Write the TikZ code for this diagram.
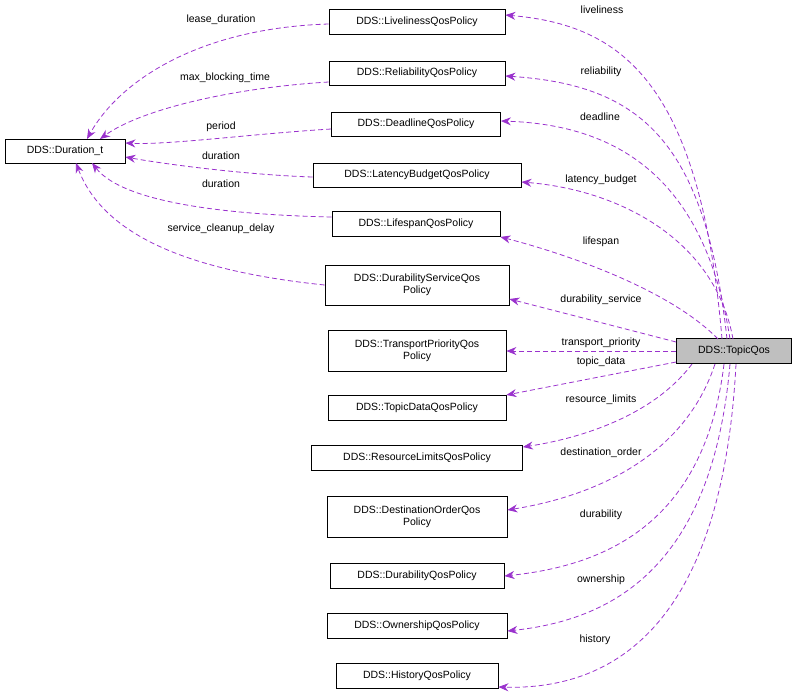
\documentclass[tikz,border=0pt]{standalone}
\usepackage{fontspec}
\setmainfont{Liberation Sans}
\usetikzlibrary{arrows.meta}
\definecolor{edge}{HTML}{9A32CD}
\begin{document}
\begin{tikzpicture}[x=1pt,y=-1pt,
  box/.style={draw=black,line width=0.8pt,fill=white,align=center,inner sep=0pt,font=\fontsize{10.5}{12.5}\selectfont},
  lbl/.style={font=\fontsize{10.5}{12.5}\selectfont,inner sep=0pt},
  e/.style={draw=edge,dashed,dash pattern=on 5pt off 3pt,line width=0.8pt,-{Stealth[length=10pt,width=8pt]}}]
\useasboundingbox (0,0) rectangle (797,697);
\node[box,minimum width=120,minimum height=24] (dur) at (65,151) {DDS::Duration\_t};
\node[box,minimum width=176,minimum height=25] (live) at (417,22) {DDS::LivelinessQosPolicy};
\node[box,minimum width=176,minimum height=24] (rel) at (417,73) {DDS::ReliabilityQosPolicy};
\node[box,minimum width=169,minimum height=24] (dead) at (416,124) {DDS::DeadlineQosPolicy};
\node[box,minimum width=208,minimum height=24] (lat) at (417,175) {DDS::LatencyBudgetQosPolicy};
\node[box,minimum width=168,minimum height=25] (life) at (416,224) {DDS::LifespanQosPolicy};
\node[box,minimum width=184,minimum height=40] (dsv) at (417,285) {DDS::DurabilityServiceQos\\Policy};
\node[box,minimum width=178,minimum height=41] (tp) at (417,351) {DDS::TransportPriorityQos\\Policy};
\node[box,minimum width=178,minimum height=25] (td) at (417,408) {DDS::TopicDataQosPolicy};
\node[box,minimum width=211,minimum height=25] (rl) at (417,458) {DDS::ResourceLimitsQosPolicy};
\node[box,minimum width=180,minimum height=41] (dor) at (417,517) {DDS::DestinationOrderQos\\Policy};
\node[box,minimum width=174,minimum height=25] (dq) at (417,576) {DDS::DurabilityQosPolicy};
\node[box,minimum width=180,minimum height=25] (own) at (417,626) {DDS::OwnershipQosPolicy};
\node[box,minimum width=162,minimum height=25] (hist) at (417,676) {DDS::HistoryQosPolicy};
\node[box,fill={rgb,255:red,191;green,191;blue,191},minimum width=115,minimum height=25] (tq) at (734,351) {DDS::TopicQos};

\coordinate (t1) at (722,339); \coordinate (t2) at (727,339); \coordinate (t3) at (730,339);
\coordinate (t4) at (733,339); \coordinate (t5) at (718,339);
\coordinate (b1) at (692,364); \coordinate (b2) at (715,364); \coordinate (b3) at (724,364);
\coordinate (b4) at (730,364); \coordinate (b5) at (736,364);
\coordinate (dA) at (87,139); \coordinate (dB) at (100,139);
\coordinate (dC) at (92,163); \coordinate (dD) at (76,163);

\path[e] (t1) .. controls (700,80) and (620,25) .. (live.east |- 0,15);
\path[e] (t2) .. controls (705,140) and (640,85) .. (rel.east |- 0,76);
\path[e] (t3) .. controls (705,180) and (620,125) .. (dead.east |- 0,121);
\path[e] (t4) .. controls (715,240) and (620,190) .. (lat.east |- 0,182);
\path[e] (t5) .. controls (670,290) and (570,255) .. (life.south east);
\path[e] (tq.west |- 0,342) -- (dsv.east |- 0,299);
\path[e] (tq.west) -- (tp.east);
\path[e] (tq.west |- 0,362) -- (td.east |- 0,395);
\path[e] (b1) .. controls (650,420) and (570,440) .. (rl.east |- 0,447);
\path[e] (b2) .. controls (680,470) and (570,500) .. (dor.east |- 0,510);
\path[e] (b3) .. controls (705,520) and (610,565) .. (dq.east);
\path[e] (b4) .. controls (712,570) and (610,620) .. (own.east |- 0,631);
\path[e] (b5) .. controls (722,630) and (610,690) .. (hist.east |- 0,687);

\path[e] (live.west |- 0,24) .. controls (200,28) and (120,80) .. (dA);
\path[e] (rel.west |- 0,82) .. controls (230,88) and (140,110) .. (dB);
\path[e] (dead.west |- 0,129) .. controls (250,134) and (170,145) .. (dur.east |- 0,143);
\path[e] (lat.west |- 0,177) .. controls (250,175) and (170,165) .. (dur.east |- 0,157);
\path[e] (life.west |- 0,217) .. controls (240,215) and (125,205) .. (dC);
\path[e] (dsv.west) .. controls (200,272) and (105,240) .. (dD);

\node[lbl] (l1) at (602,10) {liveliness};
\node[lbl] (l2) at (601,72) {reliability};
\node[lbl] (l3) at (600,117) {deadline};
\node[lbl] (l4) at (601,180) {latency\_budget};
\node[lbl] (l5) at (601,242) {lifespan};
\node[lbl] (l6) at (601,300) {durability\_service};
\node[lbl] (l7) at (601,343) {transport\_priority};
\node[lbl] (l8) at (601,362) {topic\_data};
\node[lbl] (l9) at (601,400) {resource\_limits};
\node[lbl] (l10) at (601,453) {destination\_order};
\node[lbl] (l11) at (601,515) {durability};
\node[lbl] (l12) at (601,580) {ownership};
\node[lbl] (l13) at (595,640) {history};
\node[lbl] (d1) at (221,20) {lease\_duration};
\node[lbl] (d2) at (225,78) {max\_blocking\_time};
\node[lbl] (d3) at (221,127) {period};
\node[lbl] (d4) at (221,156) {duration};
\node[lbl] (d5) at (221,184) {duration};
\node[lbl] (d6) at (221,229) {service\_cleanup\_delay};
\end{tikzpicture}
\end{document}
